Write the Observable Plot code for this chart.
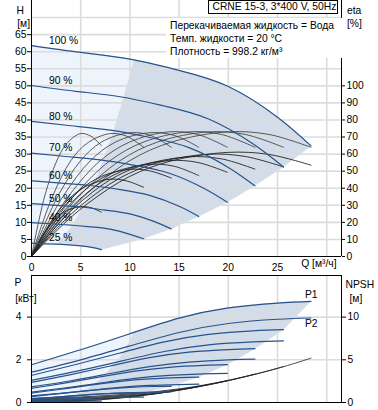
<!DOCTYPE html>
<html><head><meta charset="utf-8">
<script src="https://cdn.jsdelivr.net/npm/d3@7"></script>
<script src="https://cdn.jsdelivr.net/npm/@observablehq/plot@0.6"></script>
<style>
body{margin:0;background:#fff;}
#wrap{position:relative;width:378px;height:410px;overflow:hidden;font-family:"Liberation Sans",Arial,sans-serif;color:#000;}
#top,#bot{position:absolute;left:0;}
#top{top:0;}
#bot{top:272px;}
#title{position:absolute;left:208px;top:0;width:130px;height:14px;box-sizing:border-box;border:1px solid #000;background:#fff;font-size:10.3px;line-height:12px;padding-left:3.5px;white-space:nowrap;}
#info{position:absolute;left:166px;top:18px;width:178px;height:40px;box-sizing:border-box;background:#fff;font-size:10.3px;line-height:12.8px;padding:2px 0 0 4px;white-space:nowrap;}
</style></head>
<body>
<div id="wrap">
  <div id="top"></div>
  <div id="bot"></div>
  <div id="title">CRNE 15-3, 3*400 V, 50Hz</div>
  <div id="info">Перекачиваемая жидкость = Вода<br>Темп. жидкости = 20 °C<br>Плотность = 998.2 кг/м³</div>
</div>
<script>
// ---------- data ----------
const speedLabels = ["100 %", "90 %", "80 %", "70 %", "60 %", "50 %", "40 %", "25 %"];

// flow points (m³/h) for head / power / NPSH curves, one row per speed
const curveFlows = [
  [0, 5, 10, 15, 20, 25, 28.4],
  [0, 4.5, 9, 13.5, 18, 22.5, 25.6],
  [0, 4, 8, 12, 16, 20, 22.7],
  [0, 3.5, 7, 10.5, 14, 17.5, 19.9],
  [0, 3, 6, 9, 12, 15, 17.0],
  [0, 2.5, 5, 7.5, 10, 12.5, 14.2],
  [0, 2, 4, 6, 8, 10, 11.4],
  [0, 1.25, 2.5, 3.75, 5, 6.25, 7.1]
];
// head H (m)
const headCurves = [
  [61.8, 59.8, 57.8, 54.5, 49.8, 40.8, 32.4],
  [50.1, 48.4, 46.8, 44.1, 40.3, 33.0, 26.2],
  [39.6, 38.3, 37.0, 34.9, 31.9, 26.1, 20.7],
  [30.3, 29.3, 28.3, 26.7, 24.4, 20.0, 15.9],
  [22.2, 21.5, 20.8, 19.6, 17.9, 14.7, 11.7],
  [15.5, 15.0, 14.5, 13.6, 12.5, 10.2, 8.1],
  [9.9, 9.6, 9.2, 8.7, 8.0, 6.5, 5.2],
  [3.9, 3.7, 3.6, 3.4, 3.1, 2.6, 2.0]
];
// flow points for efficiency curves
const etaFlows = [
  [0, 2.84, 5.68, 9.94, 14.2, 19.88, 24.14, 28.4],
  [0, 2.56, 5.11, 8.95, 12.78, 17.89, 21.73, 25.6],
  [0, 2.27, 4.54, 7.95, 11.36, 15.9, 19.31, 22.7],
  [0, 1.99, 3.98, 6.96, 9.94, 13.92, 16.9, 19.9],
  [0, 1.7, 3.41, 5.96, 8.52, 11.93, 14.48, 17.0],
  [0, 1.42, 2.84, 4.97, 7.1, 9.94, 12.07, 14.2],
  [0, 1.14, 2.27, 3.98, 5.68, 7.95, 9.66, 11.4],
  [0, 0.71, 1.42, 2.49, 3.55, 4.97, 6.04, 7.1]
];
// pump efficiency (%)
const etaPumpCurves = [
  [0, 20, 37, 56, 67, 73, 71.5, 64],
  [0, 20, 37, 56, 67, 73, 71.5, 64],
  [0, 20, 37, 56, 67, 73, 71.5, 64],
  [0, 20, 37, 56, 67, 73, 71.5, 64],
  [0, 20, 37, 56, 67, 72.5, 71, 64],
  [0, 20, 37, 56, 67, 72.5, 71, 64],
  [0, 20, 37, 56, 66.5, 72, 70.5, 64],
  [0, 20, 37, 55, 66, 72, 70.5, 65]
];
// total efficiency (%)
const etaTotalCurves = [
  [0, 16.7, 30.9, 46.8, 56.0, 61.0, 59.8, 53.5],
  [0, 16.4, 30.3, 45.9, 54.9, 59.9, 58.6, 52.5],
  [0, 16.0, 29.6, 44.8, 53.6, 58.4, 57.2, 51.2],
  [0, 15.4, 28.5, 43.1, 51.6, 56.2, 55.1, 49.3],
  [0, 14.8, 27.4, 41.4, 49.6, 54.0, 52.9, 47.4],
  [0, 14.0, 25.9, 39.2, 46.9, 51.1, 50.1, 46.0],
  [0, 12.4, 22.9, 34.7, 41.5, 45.3, 44.3, 40.5],
  [0, 8.0, 14.8, 22.4, 26.8, 29.2, 28.6, 26.0]
];
// input power P1 (kW)
const p1Curves = [
  [1.77, 2.47, 3.22, 3.95, 4.43, 4.66, 4.74],
  [1.27, 1.78, 2.32, 2.84, 3.19, 3.36, 3.41],
  [0.94, 1.31, 1.71, 2.10, 2.36, 2.48, 2.52],
  [0.66, 0.92, 1.20, 1.47, 1.65, 1.74, 1.77],
  [0.44, 0.62, 0.81, 0.99, 1.11, 1.17, 1.19],
  [0.28, 0.40, 0.52, 0.63, 0.71, 0.75, 0.76],
  [0.17, 0.23, 0.31, 0.38, 0.42, 0.44, 0.45],
  [0.05, 0.07, 0.10, 0.12, 0.13, 0.14, 0.14]
];
// shaft power P2 (kW)
const p2Curves = [
  [1.42, 2.00, 2.65, 3.28, 3.70, 3.90, 3.96],
  [1.04, 1.46, 1.93, 2.39, 2.70, 2.84, 2.89],
  [0.73, 1.02, 1.36, 1.68, 1.89, 2.00, 2.03],
  [0.49, 0.69, 0.91, 1.13, 1.27, 1.34, 1.36],
  [0.31, 0.43, 0.57, 0.71, 0.80, 0.84, 0.86],
  [0.18, 0.25, 0.33, 0.41, 0.46, 0.49, 0.50],
  [0.09, 0.13, 0.17, 0.21, 0.24, 0.25, 0.25],
  [0.02, 0.03, 0.04, 0.05, 0.06, 0.06, 0.06]
];
// NPSH (m)
const npshCurves = [
  [0.50, 0.65, 1.00, 1.60, 2.60, 4.00, 5.20],
  [0.41, 0.53, 0.81, 1.30, 2.11, 3.24, 4.21],
  [0.32, 0.42, 0.64, 1.02, 1.66, 2.56, 3.33],
  [0.25, 0.32, 0.49, 0.78, 1.27, 1.96, 2.55],
  [0.18, 0.23, 0.36, 0.58, 0.94, 1.44, 1.87],
  [0.13, 0.16, 0.25, 0.40, 0.65, 1.00, 1.30],
  [0.08, 0.10, 0.16, 0.26, 0.42, 0.64, 0.83],
  [0.03, 0.04, 0.06, 0.10, 0.16, 0.25, 0.33]
];
// minimum-flow boundary of the operating range (100% .. 25%)
const minFlowHead = [[10.4, 57.6], [9.36, 46.7], [8.32, 36.9], [7.28, 28.2], [6.24, 20.7], [5.2, 14.4], [4.16, 9.2], [2.6, 3.6]];
const minFlowP1 = [[10.4, 3.28], [9.36, 2.36], [8.32, 1.74], [7.28, 1.22], [6.24, 0.82], [5.2, 0.52], [4.16, 0.31], [2.6, 0.10]];

// ticks
const qTicks = [0, 5, 10, 15, 20, 25];
const qGrid = [5, 10, 15, 20, 25, 30];
const hTicks = [0, 5, 10, 15, 20, 25, 30, 35, 40, 45, 50, 55, 60, 65];
const hGrid = [5, 10, 15, 20, 25, 30, 35, 40, 45, 50, 55, 60, 65, 70];
const etaTicks = [0, 10, 20, 30, 40, 50, 60, 70, 80, 90, 100];
const pTicks = [0, 2, 4];
const npshTicks = [0, 5, 10];

// ---------- styling ----------
const FONT = '"Liberation Sans", Arial, sans-serif';
const BLUE = "#28528c";
const DARK = "#d3dde9";
const LIGHT = "#edf4fc";
const GRID = "#dcdcdc";
const QMAX = 31.5;

// ---------- helpers ----------
const rows = (flows, vals, f = v => v) =>
  flows.flatMap((qs, i) => qs.map((q, j) => ({s: i, q, v: f(vals[i][j])})));
const curve = (flows, vals, i) => flows[i].map((q, j) => ({q, v: vals[i][j]}));
const endsOf = (flows, vals) => flows.map((qs, i) => ({q: qs[qs.length - 1], v: vals[i][vals[i].length - 1]}));
const pts = arr => arr.map(([q, v]) => ({q, v}));

// ---------- top chart ----------
const head100 = curve(curveFlows, headCurves, 0);
const head25 = curve(curveFlows, headCurves, 7);
const headEnds = endsOf(curveFlows, headCurves).slice().reverse(); // 25% .. 100%
const lightTop = [...head100.filter(d => d.q < 10.4), ...pts(minFlowHead), ...head25.filter(d => d.q < 2.6).reverse()];
const whiteTop = [...head25, ...headEnds.slice(1), {q: QMAX, v: headEnds[headEnds.length - 1].v}, {q: QMAX, v: 0}, {q: 0, v: 0}];
const labelData = speedLabels.map((label, i) => ({label, v: headCurves[i][0]}));

const gridStyle = {stroke: GRID, strokeOpacity: 1, strokeWidth: 1.6};

const topPlot = Plot.plot({
  width: 378, height: 272,
  marginLeft: 31, marginRight: 37, marginTop: 0, marginBottom: 16,
  style: {fontFamily: FONT, fontSize: "10.3px", color: "#000", background: "transparent", overflow: "visible"},
  x: {domain: [0, QMAX], axis: null},
  y: {domain: [0, 75], axis: null},
  marks: [
    Plot.areaY(head100, {x: "q", y: "v", curve: "natural", fill: DARK}),
    Plot.line(lightTop, {x: "q", y: "v", fill: LIGHT, stroke: "none"}),
    Plot.line(whiteTop, {x: "q", y: "v", fill: "#fff", stroke: "none"}),
    Plot.gridX(qGrid, gridStyle),
    Plot.gridY(hGrid, gridStyle),
    Plot.line(rows(etaFlows, etaPumpCurves, v => v / 2), {x: "q", y: "v", z: "s", curve: "catmull-rom", stroke: "#333", strokeWidth: 0.8}),
    Plot.line(rows(etaFlows, etaTotalCurves, v => v / 2), {x: "q", y: "v", z: "s", curve: "catmull-rom", stroke: "#222", strokeWidth: 0.9}),
    Plot.line(rows(curveFlows, headCurves), {x: "q", y: "v", z: "s", curve: "natural", stroke: BLUE, strokeWidth: 1.2}),
    Plot.text(labelData, {frameAnchor: "left", y: "v", text: "label", textAnchor: "start", dx: 17.5, dy: -5}),
    Plot.ruleX([0], {stroke: "#000"}),
    Plot.ruleX([QMAX], {stroke: "#000"}),
    Plot.ruleY([0], {stroke: "#000"}),
    Plot.axisY(hTicks, {anchor: "left", tickSize: 4, tickPadding: 1, label: null}),
    Plot.axisY(etaTicks.map(e => e / 2), {anchor: "right", tickSize: 3, tickPadding: 2, tickFormat: d => d * 2, label: null}),
    Plot.axisX(qTicks, {anchor: "bottom", tickSize: 0, tickPadding: 7, label: null}),
    Plot.text(["Q [м³/ч]"], {frameAnchor: "bottom-right", textAnchor: "end", dx: -5, dy: 10.5}),
    Plot.text(["H"], {frameAnchor: "top-left", dx: -15, dy: 6}),
    Plot.text(["[м]"], {frameAnchor: "top-left", dx: -14.3, dy: 18.7}),
    Plot.text(["eta"], {frameAnchor: "top-right", textAnchor: "start", dx: 5.5, dy: 6}),
    Plot.text(["[%]"], {frameAnchor: "top-right", textAnchor: "start", dx: 5.5, dy: 19})
  ]
});
document.getElementById("top").append(topPlot);

// ---------- bottom chart ----------
const p1_100 = curve(curveFlows, p1Curves, 0);
const p1_25 = curve(curveFlows, p1Curves, 7);
const p1Ends = endsOf(curveFlows, p1Curves).slice().reverse();
const p2Ends = endsOf(curveFlows, p2Curves);
const lightBot = [...p1_100.filter(d => d.q < 10.4), ...pts(minFlowP1), ...p1_25.filter(d => d.q < 2.6).reverse()];
const whiteBot = [...p1_25, ...p1Ends.slice(1), {q: QMAX, v: p1Ends[p1Ends.length - 1].v}, {q: QMAX, v: 0}, {q: 0, v: 0}];

const botPlot = Plot.plot({
  width: 378, height: 138,
  marginLeft: 31, marginRight: 37, marginTop: 3, marginBottom: 8,
  style: {fontFamily: FONT, fontSize: "10.3px", color: "#000", background: "transparent", overflow: "visible"},
  x: {domain: [0, QMAX], axis: null},
  y: {domain: [0, 5.95], axis: null},
  marks: [
    Plot.areaY(p1_100, {x: "q", y: "v", curve: "natural", fill: DARK}),
    Plot.line(lightBot, {x: "q", y: "v", fill: LIGHT, stroke: "none"}),
    Plot.line(whiteBot, {x: "q", y: "v", fill: "#fff", stroke: "none"}),
    Plot.gridX(qGrid, gridStyle),
    Plot.gridY([2, 4], gridStyle),
    Plot.line(rows(curveFlows, npshCurves, v => v / 2.5), {x: "q", y: "v", z: "s", curve: "natural", stroke: "#222", strokeWidth: 0.8}),
    Plot.line(rows(curveFlows, p2Curves), {x: "q", y: "v", z: "s", curve: "natural", stroke: BLUE, strokeWidth: 1.2}),
    Plot.line(rows(curveFlows, p1Curves), {x: "q", y: "v", z: "s", curve: "natural", stroke: BLUE, strokeWidth: 1.2}),
    Plot.text([p1Ends[p1Ends.length - 1]], {x: "q", y: "v", text: () => "P1", textAnchor: "start", dx: -6, dy: -6.5}),
    Plot.text([p2Ends[0]], {x: "q", y: "v", text: () => "P2", textAnchor: "start", dx: -6, dy: 6}),
    Plot.frame({stroke: "#000"}),
    Plot.axisY(pTicks, {anchor: "left", tickSize: 4, tickPadding: 6, label: null}),
    Plot.axisY(npshTicks.map(n => n / 2.5), {anchor: "right", tickSize: 4, tickPadding: 2, tickFormat: d => d * 2.5, label: null}),
    Plot.text(["P"], {frameAnchor: "top-left", dx: -17, dy: 3}),
    Plot.text(["[кВт]"], {frameAnchor: "top-left", dx: -16.3, dy: 18.7}),
    Plot.text(["NPSH"], {frameAnchor: "top-right", textAnchor: "start", dx: 4, dy: 5.5}),
    Plot.text(["[м]"], {frameAnchor: "top-right", textAnchor: "start", dx: 8, dy: 19})
  ]
});
document.getElementById("bot").append(botPlot);
</script>
</body></html>
